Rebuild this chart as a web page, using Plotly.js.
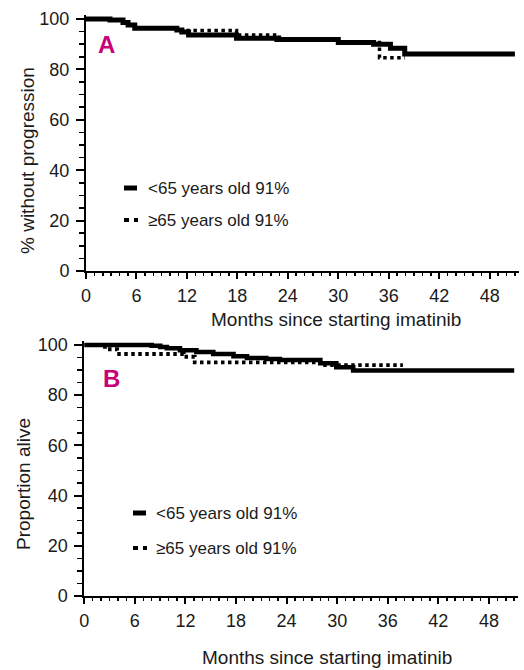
<!DOCTYPE html>
<html>
<head>
<meta charset="utf-8">
<script src="https://cdn.plot.ly/plotly-3.0.1.min.js"></script>
<style>html,body{margin:0;padding:0;background:#fff;}#chart{width:524px;height:670px;}</style>
</head>
<body>
<div id="chart"></div>
<script>
// Panel A: progression-free (% without progression)
const aYoungT = [0, 2.85, 4.4, 5.0, 5.8, 10.8, 11.4, 12.2, 17.9, 22.7, 30, 34.2, 36.2, 37.9, 51];
const aYoungV = [100, 99.6, 98.6, 97.6, 96.3, 95.6, 94.8, 93.6, 92.4, 91.9, 90.7, 90.0, 88.4, 86.1, 86.1];
const aOldT = [0, 2.85, 4.4, 5.0, 5.8, 10.8, 17.9, 23, 30, 34.9, 37.9];
const aOldV = [100, 99.6, 98.6, 97.6, 96.3, 95.4, 93.6, 91.9, 90.7, 84.6, 84.6];
// Panel B: overall survival (Proportion alive)
const bYoungT = [0, 8.0, 9.0, 9.8, 11.35, 13.3, 15.3, 17.7, 19.3, 21.6, 23.2, 28, 29.9, 31.9, 51];
const bYoungV = [100, 99.7, 99.2, 98.7, 97.9, 97.2, 96.4, 95.5, 94.8, 94.4, 94.0, 92.7, 91.1, 89.8, 89.8];
const bOldT = [0, 2.45, 3.9, 11.8, 13.1, 28, 37.8];
const bOldV = [100, 98.3, 96.4, 95.3, 93.1, 92.0, 92.0];

const seriesNames = ['<65 years old 91%', '\u226565 years old 91%'];
const xTicks = [0, 6, 12, 18, 24, 30, 36, 42, 48];
const yTicks = [0, 20, 40, 60, 80, 100];
const xTitle = 'Months since starting imatinib';
const yTitleA = '% without progression';
const yTitleB = 'Proportion alive';

const FONT = 'Liberation Sans, Arial, sans-serif';
const H = 670, W = 524;
const px = v => v / W;
const py = v => 1 - v / H;

function trace(t, v, xa, ya, dotted, w) {
  return {
    x: t, y: v, xaxis: xa, yaxis: ya, type: 'scatter', mode: 'lines',
    line: {shape: 'hv', color: '#000', width: w, dash: dotted ? '3.5px,3.5px' : 'solid'},
    showlegend: false, hoverinfo: 'skip'
  };
}

const data = [
  trace(aOldT, aOldV, 'x', 'y', true, 3.5),
  trace(aYoungT, aYoungV, 'x', 'y', false, 5),
  trace(bOldT, bOldV, 'x2', 'y2', true, 3.8),
  trace(bYoungT, bYoungV, 'x2', 'y2', false, 4.6)
];

function xax(domain, anchor) {
  return {
    domain: domain, anchor: anchor, range: [0, 51.5],
    tickmode: 'array', tickvals: xTicks, ticktext: xTicks.map(String),
    ticks: 'outside', ticklen: 6, tickwidth: 2, tickcolor: '#000',
    minor: {tickmode: 'linear', tick0: 0, dtick: 1, ticks: 'outside', ticklen: 3, tickwidth: 1.5, tickcolor: '#000'},
    showline: true, linewidth: 2, linecolor: '#000',
    showgrid: false, zeroline: false,
    tickfont: {family: FONT, size: 18, color: '#1a1a1a'},
    ticklabelstandoff: 1, fixedrange: true
  };
}
function yax(domain, anchor) {
  return {
    domain: domain, anchor: anchor, range: [0, 101.5],
    tickmode: 'array', tickvals: yTicks, ticktext: yTicks.map(String),
    ticks: 'outside', ticklen: 8, tickwidth: 2, tickcolor: '#000',
    minor: {tickmode: 'linear', tick0: 0, dtick: 5, ticks: 'outside', ticklen: 5, tickwidth: 1.5, tickcolor: '#000'},
    showline: true, linewidth: 2, linecolor: '#000',
    showgrid: false, zeroline: false,
    tickfont: {family: FONT, size: 18, color: '#1a1a1a'},
    ticklabelstandoff: 3, fixedrange: true
  };
}

function ann(text, x, y, opts) {
  return Object.assign({
    text: text, x: x, y: y, xref: 'paper', yref: 'paper',
    showarrow: false, xanchor: 'center', yanchor: 'middle',
    font: {family: FONT, size: 19, color: '#1a1a1a'}
  }, opts || {});
}

const legFont = {family: FONT, size: 17, color: '#1a1a1a'};
const annotations = [
  ann('A', px(106), py(45), {font: {family: FONT, size: 24, color: '#c8007a', weight: 'bold'}}),
  ann('B', px(111), py(378), {font: {family: FONT, size: 24, color: '#c8007a', weight: 'bold'}}),
  ann(xTitle, px(336), py(319)),
  ann(xTitle, px(327), py(657)),
  ann(yTitleA, px(27), py(161), {textangle: -90}),
  ann(yTitleB, px(23), py(484), {textangle: -90}),
  ann(seriesNames[0], px(146), py(188), {xanchor: 'left', font: legFont}),
  ann(seriesNames[1], px(146), py(220), {xanchor: 'left', font: legFont}),
  ann(seriesNames[0], px(154), py(513), {xanchor: 'left', font: legFont}),
  ann(seriesNames[1], px(154), py(548), {xanchor: 'left', font: legFont})
];

function keyLine(x0, x1, y, dotted) {
  return {
    type: 'line', xref: 'paper', yref: 'paper',
    x0: px(x0), x1: px(x1), y0: py(y), y1: py(y),
    line: {color: '#000', width: dotted ? 4 : 5, dash: dotted ? '5px,5px' : 'solid'}
  };
}
const shapes = [
  keyLine(124, 137, 188, false),
  keyLine(124, 138, 220, true),
  keyLine(133, 146, 513, false),
  keyLine(133, 147, 548, true)
];

const layout = {
  width: W, height: H,
  margin: {l: 0, r: 0, t: 0, b: 0},
  paper_bgcolor: '#fff', plot_bgcolor: '#fff',
  showlegend: false,
  xaxis: xax([px(86), px(519.1)], 'y'),
  yaxis: yax([py(271), py(15.2)], 'x'),
  xaxis2: xax([px(84.3), px(518.4)], 'y2'),
  yaxis2: yax([py(596), py(341.2)], 'x2'),
  annotations: annotations,
  shapes: shapes,
  font: {family: FONT}
};

Plotly.newPlot('chart', data, layout, {displayModeBar: false, staticPlot: true});
</script>
</body>
</html>
